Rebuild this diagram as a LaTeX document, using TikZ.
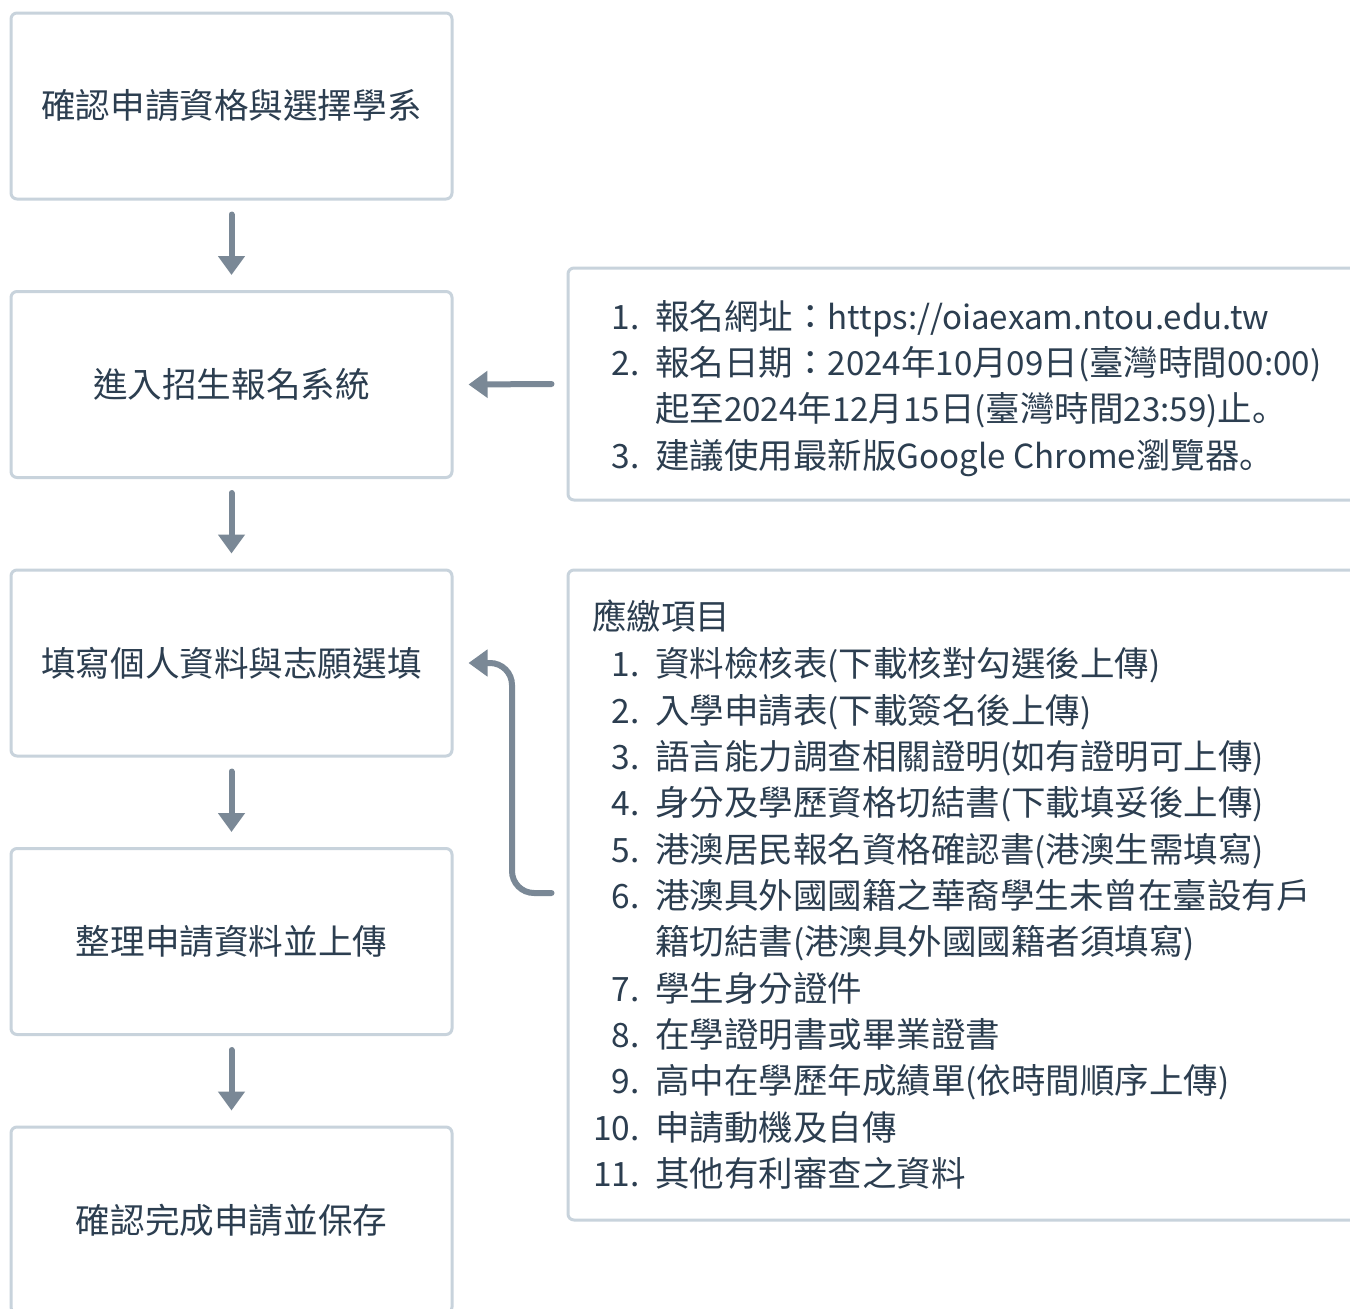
\documentclass[tikz,border=0pt]{standalone}
\usepackage{fontspec}
\setmainfont{Noto Sans CJK TC}
\newfontfamily\latfont[Scale=0.96]{Noto Sans CJK TC}
\newfontfamily\jpfont{Noto Sans CJK JP}
\newcommand{\La}[1]{{\latfont #1}}
\newcommand{\Pd}{{\jpfont 。}}
\usetikzlibrary{arrows.meta,calc}
\definecolor{txt}{HTML}{2C3E50}
\definecolor{arrc}{HTML}{7A8896}
\definecolor{bord}{HTML}{C8D3DC}
\begin{document}
\begin{tikzpicture}[x=1pt,y=-1pt,
  stepbox/.style={draw=bord, line width=3pt, rounded corners=6pt, fill=white,
    minimum width=441pt, minimum height=186pt, inner sep=0pt,
    font=\fontsize{34.6}{40}\selectfont, text=txt},
  infobox/.style={draw=bord, line width=3pt, rounded corners=6pt, fill=white, inner sep=0pt},
  item/.style={font=\fontsize{34.5}{40}\selectfont, text=txt, inner sep=0pt, anchor=base west},
  num/.style={font=\fontsize{33.5}{40}\selectfont, text=txt, inner sep=0pt, anchor=base east},
  arr/.style={draw=arrc, line width=6pt, line cap=round, -{Triangle[width=26pt,length=19pt]}}]
\useasboundingbox (0,0) rectangle (1350,1309);
\clip (0,0) rectangle (1350,1309);
\fill[white] (0,0) rectangle (1350,1309);
% left steps
\node[stepbox] (b1) at (231.5,106) {確認申請資格與選擇學系};
\node[stepbox] (b2) at (231.5,384.5) {進入招生報名系統};
\node[stepbox] (b3) at (231.5,663) {填寫個人資料與志願選填};
\node[stepbox] (b4) at (231.5,941.5) {整理申請資料並上傳};
\node[stepbox] (b5) at (231.5,1220) {確認完成申請並保存};
% right info boxes
\node[infobox, minimum width=800pt, minimum height=232pt] (r1) at (968,384) {};
\node[infobox, minimum width=800pt, minimum height=650pt] (r2) at (968,895) {};
% arrows
\draw[arr] ([yshift=-14pt]b1.south) -- ([yshift=15pt]b2.north);
\draw[arr] ([yshift=-14pt]b2.south) -- ([yshift=15pt]b3.north);
\draw[arr] ([yshift=-14pt]b3.south) -- ([yshift=15pt]b4.north);
\draw[arr] ([yshift=-14pt]b4.south) -- ([yshift=15pt]b5.north);
\draw[arr] ([xshift=-15pt]r1.west) -- ([xshift=15pt]b2.east);
\coordinate (s2) at ([xshift=-15pt,yshift=2pt]r2.west);
\coordinate (e2) at ([xshift=15pt]b3.east);
\coordinate (cx) at (512,0);
\draw[arr, rounded corners=22pt] (s2) -- (s2 -| cx) -- (cx |- e2) -- (e2);
% box 1 text
\node[num] (n1) at (640,329) {1.};
\node[item] (t1) at (655,329) {報名網址：\La{https://oiaexam.ntou.edu.tw}};
\node[num] (n2) at (640,375) {2.};
\node[item] (t2) at (655,375) {報名日期：\La{2024}年\La{10}月\La{09}日\La{(}臺灣時間\La{00:00)}};
\node[item] (t2b) at (655,421) {起至\La{2024}年\La{12}月\La{15}日\La{(}臺灣時間\La{23:59)}止\Pd};
\node[num] (n3) at (640,468) {3.};
\node[item] (t3) at (655,468) {建議使用最新版\La{Google Chrome}瀏覽器\Pd};
% box 2 text
\node[item] (h) at (592,629) {應繳項目};
\node[num] (m1) at (640,676) {1.};
\node[item] (u1) at (655,676) {資料檢核表\La{(}下載核對勾選後上傳\La{)}};
\node[num] (m2) at (640,723) {2.};
\node[item] (u2) at (655,723) {入學申請表\La{(}下載簽名後上傳\La{)}};
\node[num] (m3) at (640,769) {3.};
\node[item] (u3) at (655,769) {語言能力調查相關證明\La{(}如有證明可上傳\La{)}};
\node[num] (m4) at (640,815) {4.};
\node[item] (u4) at (655,815) {身分及學歷資格切結書\La{(}下載填妥後上傳\La{)}};
\node[num] (m5) at (640,862) {5.};
\node[item] (u5) at (655,862) {港澳居民報名資格確認書\La{(}港澳生需填寫\La{)}};
\node[num] (m6) at (640,908) {6.};
\node[item] (u6) at (655,908) {港澳具外國國籍之華裔學生未曾在臺設有戶};
\node[item] (u6b) at (655,954) {籍切結書\La{(}港澳具外國國籍者須填寫\La{)}};
\node[num] (m7) at (640,1001) {7.};
\node[item] (u7) at (655,1001) {學生身分證件};
\node[num] (m8) at (640,1047) {8.};
\node[item] (u8) at (655,1047) {在學證明書或畢業證書};
\node[num] (m9) at (640,1093) {9.};
\node[item] (u9) at (655,1093) {高中在學歷年成績單\La{(}依時間順序上傳\La{)}};
\node[num] (m10) at (640,1140) {10.};
\node[item] (u10) at (655,1140) {申請動機及自傳};
\node[num] (m11) at (640,1186) {11.};
\node[item] (u11) at (655,1186) {其他有利審查之資料};
\end{tikzpicture}
\end{document}
